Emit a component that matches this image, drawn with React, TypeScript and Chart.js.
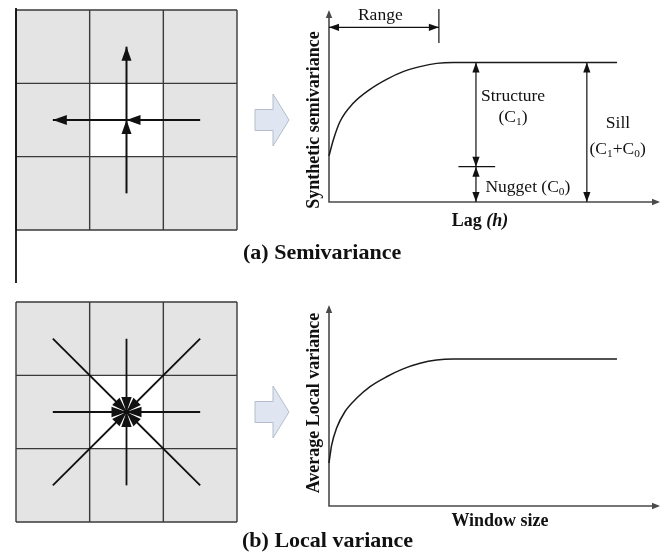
import React, { useEffect, useRef } from "react";
import { Chart, registerables } from "chart.js";

Chart.register(...registerables);

const SERIF = "'Liberation Serif', 'Times New Roman', Times, serif";

// ---------------- data ----------------
// 3x3 moving window, cell boundaries (cell units)
const gridTicks = [0, 1, 2, 3];
const centreCell = [1, 2];

// semivariance window arrows: [x0, y0, x1, y1], arrow head at (x1, y1)
const semivarArrows = [
  [1.5, 1.5, 1.5, 2.5],
  [1.5, 1.5, 0.5, 1.5],
  [1.5, 0.5, 1.5, 1.5],
  [2.5, 1.5, 1.5, 1.5],
];

// local variance window: spokes from outer cell centres/corners to the centre
const spokeX = [0.5, 1.5, 2.5, 2.5, 2.5, 1.5, 0.5, 0.5];
const spokeY = [2.5, 2.5, 2.5, 1.5, 0.5, 0.5, 0.5, 1.5];
const spokeCentre = [1.5, 1.5];

// (a) semivariogram curve
const lagValues = [0, 1.3, 3.3, 7.3, 12.4, 17.4, 22.4, 27.5, 32.5, 37.6, 87];
const semivarianceValues = [24.0, 32.3, 41.8, 51.4, 58.7, 63.9, 67.9, 70.5, 72.2, 72.7, 72.7];

// (a) semivariogram parameters
const sillLevel = 72.7;
const nuggetLevel = 18.4;
const rangeLag = 33.2;

// (b) local variance curve
const windowSizes = [0, 0.8, 2.3, 4.8, 8.4, 12.4, 17.4, 22.4, 27.5, 32.5, 37.6, 87];
const localVarianceValues = [21.4, 30.3, 38.8, 46.9, 53.7, 59.4, 64.3, 68.2, 71.0, 72.6, 73.1, 73.1];

// ---------------- helpers ----------------
type Seg = { t: string; sub?: boolean; italic?: boolean };

function drawHead(ctx: CanvasRenderingContext2D, tx: number, ty: number, fx: number, fy: number, len: number, hw: number) {
  const a = Math.atan2(ty - fy, tx - fx);
  const c = Math.cos(a), s = Math.sin(a);
  const bx = tx - c * len, by = ty - s * len;
  ctx.beginPath();
  ctx.moveTo(tx, ty);
  ctx.lineTo(bx - s * hw, by + c * hw);
  ctx.lineTo(bx + s * hw, by - c * hw);
  ctx.closePath();
  ctx.fill();
}

function drawRich(ctx: CanvasRenderingContext2D, segs: Seg[], cx: number, cy: number, size: number, bold: boolean) {
  const w = bold ? "bold " : "";
  const parts = segs.map((s) => {
    const fs = s.sub ? size * 0.65 : size;
    const font = `${s.italic ? "italic " : ""}${w}${fs}px ${SERIF}`;
    ctx.font = font;
    return { ...s, font, w: ctx.measureText(s.t).width };
  });
  const total = parts.reduce((a, p) => a + p.w, 0);
  let x = cx - total / 2;
  const base = cy + size * 0.33;
  ctx.textBaseline = "alphabetic";
  ctx.textAlign = "left";
  ctx.fillStyle = "#111";
  for (const p of parts) {
    ctx.font = p.font;
    ctx.fillText(p.t, x, base + (p.sub ? size * 0.2 : 0));
    x += p.w;
  }
}

const headsPlugin = {
  id: "heads",
  afterDatasetsDraw(chart: any) {
    const ctx = chart.ctx as CanvasRenderingContext2D;
    chart.data.datasets.forEach((ds: any, i: number) => {
      if (!ds.heads) return;
      const pts = chart.getDatasetMeta(i).data;
      if (pts.length < 2) return;
      ctx.save();
      ctx.fillStyle = ds.borderColor;
      const n = pts.length;
      if (ds.heads === "end" || ds.heads === "both")
        drawHead(ctx, pts[n - 1].x, pts[n - 1].y, pts[n - 2].x, pts[n - 2].y, ds.headLen, ds.headW);
      if (ds.heads === "both")
        drawHead(ctx, pts[0].x, pts[0].y, pts[1].x, pts[1].y, ds.headLen, ds.headW);
      ctx.restore();
    });
  },
};

function cellPlugin(extendLine: null | [number, number]) {
  return {
    id: "cells",
    beforeDatasetsDraw(chart: any) {
      const ctx = chart.ctx as CanvasRenderingContext2D;
      const { x, y } = chart.scales;
      const l = x.getPixelForValue(gridTicks[0]);
      const r = x.getPixelForValue(gridTicks[gridTicks.length - 1]);
      const t = y.getPixelForValue(gridTicks[gridTicks.length - 1]);
      const b = y.getPixelForValue(gridTicks[0]);
      ctx.save();
      ctx.fillStyle = "#e4e4e4";
      ctx.fillRect(l, t, r - l, b - t);
      ctx.fillStyle = "#ffffff";
      const cl = x.getPixelForValue(centreCell[0]);
      const cr = x.getPixelForValue(centreCell[1]);
      const ct = y.getPixelForValue(centreCell[1]);
      const cb = y.getPixelForValue(centreCell[0]);
      ctx.fillRect(cl, ct, cr - cl, cb - ct);
      ctx.strokeStyle = "#3a3a3a";
      ctx.lineWidth = 1.4;
      ctx.beginPath();
      for (const v of gridTicks) {
        const px = x.getPixelForValue(v);
        const py = y.getPixelForValue(v);
        ctx.moveTo(px, t);
        ctx.lineTo(px, b);
        ctx.moveTo(l, py);
        ctx.lineTo(r, py);
      }
      ctx.stroke();
      if (extendLine) {
        ctx.strokeStyle = "#111";
        ctx.lineWidth = 1.8;
        ctx.beginPath();
        ctx.moveTo(l, extendLine[0]);
        ctx.lineTo(l, extendLine[1]);
        ctx.stroke();
      }
      // hollow "leads to" arrow
      const my = y.getPixelForValue(1.5);
      const x0 = r + 18, x1 = r + 36, x2 = r + 52;
      ctx.beginPath();
      ctx.moveTo(x0, my - 10.5);
      ctx.lineTo(x1, my - 10.5);
      ctx.lineTo(x1, my - 26);
      ctx.lineTo(x2, my);
      ctx.lineTo(x1, my + 26);
      ctx.lineTo(x1, my + 10.5);
      ctx.lineTo(x0, my + 10.5);
      ctx.closePath();
      ctx.fillStyle = "#dfe6f2";
      ctx.fill();
      ctx.strokeStyle = "#b4bccb";
      ctx.lineWidth = 1;
      ctx.stroke();
      ctx.restore();
    },
  };
}

const axesPlugin = {
  id: "arrowAxes",
  beforeDatasetsDraw(chart: any) {
    const ctx = chart.ctx as CanvasRenderingContext2D;
    const { left, right, top, bottom } = chart.chartArea;
    ctx.save();
    ctx.strokeStyle = "#4a4a4a";
    ctx.fillStyle = "#4a4a4a";
    ctx.lineWidth = 1.6;
    ctx.beginPath();
    ctx.moveTo(left, top + 2);
    ctx.lineTo(left, bottom);
    ctx.lineTo(right - 2, bottom);
    ctx.stroke();
    drawHead(ctx, left, top, left, bottom, 8, 3.2);
    drawHead(ctx, right, bottom, left, bottom, 8, 3.2);
    ctx.restore();
  },
};

type Label = { segs: Seg[]; x: number; y: number };

function textPlugin(labels: Label[], yTitle: { segs: Seg[]; cx: number; cy: number }, xTitle: { segs: Seg[]; cx: number; cy: number }) {
  return {
    id: "texts",
    afterDraw(chart: any) {
      const ctx = chart.ctx as CanvasRenderingContext2D;
      const { x, y } = chart.scales;
      ctx.save();
      for (const lb of labels) {
        drawRich(ctx, lb.segs, x.getPixelForValue(lb.x), y.getPixelForValue(lb.y), 17.5, false);
      }
      drawRich(ctx, xTitle.segs, xTitle.cx, xTitle.cy, 18, true);
      ctx.translate(yTitle.cx, yTitle.cy);
      ctx.rotate(-Math.PI / 2);
      drawRich(ctx, yTitle.segs, 0, 0, 18, true);
      ctx.restore();
    },
  };
}

function baseOptions(padding: any, xmax: number, ymax: number) {
  return {
    animation: false,
    responsive: false,
    devicePixelRatio: 1,
    events: [],
    layout: { padding },
    plugins: { legend: { display: false }, tooltip: { enabled: false } },
    scales: {
      x: { type: "linear", min: 0, max: xmax, display: false },
      y: { type: "linear", min: 0, max: ymax, display: false },
    },
  };
}

function seg(points: number[][], color: string, width: number, heads: string, headLen = 0, headW = 0) {
  return {
    data: points.map((p) => ({ x: p[0], y: p[1] })),
    borderColor: color,
    backgroundColor: color,
    borderWidth: width,
    pointRadius: 0,
    tension: 0,
    clip: false,
    heads,
    headLen,
    headW,
  };
}

// ---------------- chart configs ----------------
function gridAConfig() {
  return {
    type: "line",
    data: {
      datasets: semivarArrows.map((a) => seg([[a[0], a[1]], [a[2], a[3]]], "#111", 2, "end", 14, 5)),
    },
    options: baseOptions({ left: 16, top: 10, right: 63, bottom: 60 }, 3, 3),
    plugins: [cellPlugin([8, 283]), headsPlugin],
  };
}

function gridBConfig() {
  return {
    type: "line",
    data: {
      datasets: spokeX.map((sx, i) => seg([[sx, spokeY[i]], spokeCentre], "#111", 1.8, "end", 15, 5.2)),
    },
    options: baseOptions({ left: 16, top: 12, right: 63, bottom: 38 }, 3, 3),
    plugins: [cellPlugin(null), headsPlugin],
  };
}

function semivarConfig() {
  const curve = {
    data: lagValues.map((x, i) => ({ x, y: semivarianceValues[i] })),
    borderColor: "#1a1a1a",
    borderWidth: 1.5,
    pointRadius: 0,
    cubicInterpolationMode: "monotone",
    clip: false,
  };
  const k = "#111";
  const structX = 44.4;
  const sillX = 77.9;
  const datasets = [
    curve,
    seg([[0, 91], [rangeLag, 91]], k, 1.2, "both", 10, 3.6),
    seg([[rangeLag, 100.5], [rangeLag, 82.8]], k, 1.2, ""),
    seg([[structX, sillLevel], [structX, nuggetLevel]], k, 1.2, "both", 10, 3.6),
    seg([[structX, nuggetLevel], [structX, 0]], k, 1.2, "both", 10, 3.6),
    seg([[39.1, nuggetLevel], [50.2, nuggetLevel]], k, 1.2, ""),
    seg([[sillX, 0], [sillX, sillLevel]], k, 1.2, "both", 10, 3.6),
  ];
  const labels: Label[] = [
    { segs: [{ t: "Range" }], x: 15.5, y: 97.6 },
    { segs: [{ t: "Structure" }], x: 55.6, y: 55.7 },
    { segs: [{ t: "(C" }, { t: "1", sub: true }, { t: ")" }], x: 55.6, y: 44.8 },
    { segs: [{ t: "Nugget (C" }, { t: "0", sub: true }, { t: ")" }], x: 60.1, y: 8.3 },
    { segs: [{ t: "Sill" }], x: 87.3, y: 41.7 },
    { segs: [{ t: "(C" }, { t: "1", sub: true }, { t: "+C" }, { t: "0", sub: true }, { t: ")" }], x: 87.2, y: 28.1 },
  ];
  return {
    type: "line",
    data: { datasets },
    options: baseOptions({ left: 34, top: 10, right: 8, bottom: 33 }, 100, 100),
    plugins: [
      axesPlugin,
      headsPlugin,
      textPlugin(
        labels,
        { segs: [{ t: "Synthetic semivariance" }], cx: 18, cy: 120 },
        { segs: [{ t: "Lag " }, { t: "(h)", italic: true }], cx: 185, cy: 220 }
      ),
    ],
  };
}

function localVarConfig() {
  const curve = {
    data: windowSizes.map((x, i) => ({ x, y: localVarianceValues[i] })),
    borderColor: "#1a1a1a",
    borderWidth: 1.5,
    pointRadius: 0,
    cubicInterpolationMode: "monotone",
    clip: false,
  };
  return {
    type: "line",
    data: { datasets: [curve] },
    options: baseOptions({ left: 34, top: 15, right: 8, bottom: 54 }, 100, 100),
    plugins: [
      axesPlugin,
      textPlugin(
        [],
        { segs: [{ t: "Average Local variance" }], cx: 18, cy: 113 },
        { segs: [{ t: "Window size" }], cx: 205, cy: 230 }
      ),
    ],
  };
}

// ---------------- components ----------------
function ChartCanvas(props: { left: number; top: number; width: number; height: number; build: () => any }) {
  const ref = useRef<HTMLCanvasElement>(null);
  useEffect(() => {
    const chart = new Chart(ref.current as HTMLCanvasElement, props.build());
    return () => chart.destroy();
  }, []);
  return (
    <canvas
      ref={ref}
      width={props.width}
      height={props.height}
      style={{ position: "absolute", left: props.left, top: props.top, width: props.width, height: props.height, display: "block" }}
    />
  );
}

const captionStyle: React.CSSProperties = {
  position: "absolute",
  fontFamily: SERIF,
  fontWeight: "bold",
  fontSize: 22,
  lineHeight: "22px",
  whiteSpace: "nowrap",
  color: "#111",
};

export default function App() {
  return (
    <div style={{ position: "absolute", left: 0, top: 0, width: 668, height: 560, background: "#fff", overflow: "hidden" }}>
      <ChartCanvas left={0} top={0} width={300} height={290} build={gridAConfig} />
      <ChartCanvas left={0} top={290} width={300} height={270} build={gridBConfig} />
      <ChartCanvas left={295} top={0} width={373} height={235} build={semivarConfig} />
      <ChartCanvas left={295} top={290} width={373} height={270} build={localVarConfig} />
      <div style={{ ...captionStyle, left: 243, top: 241 }}>(a) Semivariance</div>
      <div style={{ ...captionStyle, left: 242, top: 529 }}>(b) Local variance</div>
    </div>
  );
}
